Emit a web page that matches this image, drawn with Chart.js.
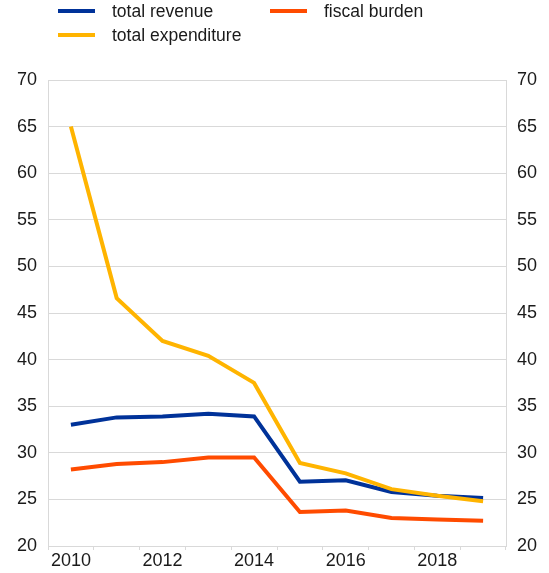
<!DOCTYPE html>
<html>
<head>
<meta charset="utf-8">
<script src="https://cdn.jsdelivr.net/npm/chart.js@4/dist/chart.umd.min.js"></script>
<style>
  html, body { margin: 0; padding: 0; background: #fff; }
  #wrap { width: 549px; height: 573px; position: relative; }
</style>
</head>
<body>
<div id="wrap"><canvas id="chart"></canvas></div>
<script>
// Categories and series (percent of GDP)
const years = ['2010', '2011', '2012', '2013', '2014', '2015', '2016', '2017', '2018', '2019'];
const xTickLabels = ['2010', '', '2012', '', '2014', '', '2016', '', '2018', ''];
const totalRevenue = [33.0, 33.8, 33.9, 34.2, 33.9, 26.9, 27.05, 25.8, 25.4, 25.15];
const totalExpenditure = [65.0, 46.6, 42.0, 40.4, 37.5, 28.9, 27.8, 26.1, 25.4, 24.8];
const fiscalBurden = [28.2, 28.8, 29.0, 29.5, 29.5, 23.65, 23.8, 23.0, 22.85, 22.7];
const yMin = 20, yMax = 70, yStep = 5;

const FONT = "'Liberation Sans', Arial, sans-serif";
const TEXT = '#1a1a1a';
const GRID = '#d9d9d9';
const BLUE = '#003299', YELLOW = '#FFB400', ORANGE = '#FF4B00';

// Legend drawn in the space above the plot: two items on row one, one on row two
const legendPlugin = {
  id: 'topLegend',
  afterDraw(chart) {
    const ctx = chart.ctx;
    const items = [
      { ds: 0, x: 58, y: 11 },
      { ds: 2, x: 270, y: 11 },
      { ds: 1, x: 58, y: 35 }
    ];
    ctx.save();
    ctx.font = '17.5px ' + FONT;
    ctx.textBaseline = 'middle';
    ctx.textAlign = 'left';
    items.forEach(it => {
      const ds = chart.data.datasets[it.ds];
      ctx.strokeStyle = ds.borderColor;
      ctx.lineWidth = 4;
      ctx.beginPath();
      ctx.moveTo(it.x, it.y);
      ctx.lineTo(it.x + 37, it.y);
      ctx.stroke();
      ctx.fillStyle = TEXT;
      ctx.fillText(ds.label, it.x + 54, it.y + 1);
    });
    ctx.restore();
  }
};

new Chart(document.getElementById('chart'), {
  type: 'line',
  data: {
    labels: years,
    datasets: [
      { label: 'total revenue', data: totalRevenue, borderColor: BLUE, order: 1 },
      { label: 'total expenditure', data: totalExpenditure, borderColor: YELLOW, order: 0 },
      { label: 'fiscal burden', data: fiscalBurden, borderColor: ORANGE, order: 2 }
    ]
  },
  options: {
    responsive: true,
    maintainAspectRatio: false,
    animation: false,
    layout: { padding: { top: 80, left: 0, right: 0, bottom: 0 } },
    elements: {
      line: { borderWidth: 4, tension: 0, fill: false, borderJoinStyle: 'miter' },
      point: { radius: 0, hoverRadius: 0 }
    },
    plugins: { legend: { display: false }, tooltip: { enabled: false } },
    scales: {
      x: {
        type: 'category',
        offset: true,
        grid: { display: true, drawOnChartArea: false, drawTicks: true, tickLength: 4, offset: true, color: GRID },
        border: { display: true, color: GRID },
        ticks: {
          autoSkip: false, maxRotation: 0, padding: 0,
          color: TEXT, font: { family: FONT, size: 18 },
          callback: (v, i) => xTickLabels[i]
        },
        afterFit: s => { s.height = 27; }
      },
      y: {
        position: 'left',
        min: yMin, max: yMax,
        grid: { color: GRID, drawTicks: false },
        border: { display: true, color: GRID },
        ticks: { stepSize: yStep, padding: 11, color: TEXT, font: { family: FONT, size: 18 } },
        afterFit: s => { s.width = 48; s.paddingTop = 0; s.paddingBottom = 0; }
      },
      y2: {
        position: 'right',
        min: yMin, max: yMax,
        grid: { drawOnChartArea: false, drawTicks: false },
        border: { display: true, color: GRID },
        ticks: { stepSize: yStep, padding: 11, color: TEXT, font: { family: FONT, size: 18 } },
        afterFit: s => { s.width = 43; s.paddingTop = 0; s.paddingBottom = 0; }
      }
    }
  },
  plugins: [legendPlugin]
});
</script>
</body>
</html>
